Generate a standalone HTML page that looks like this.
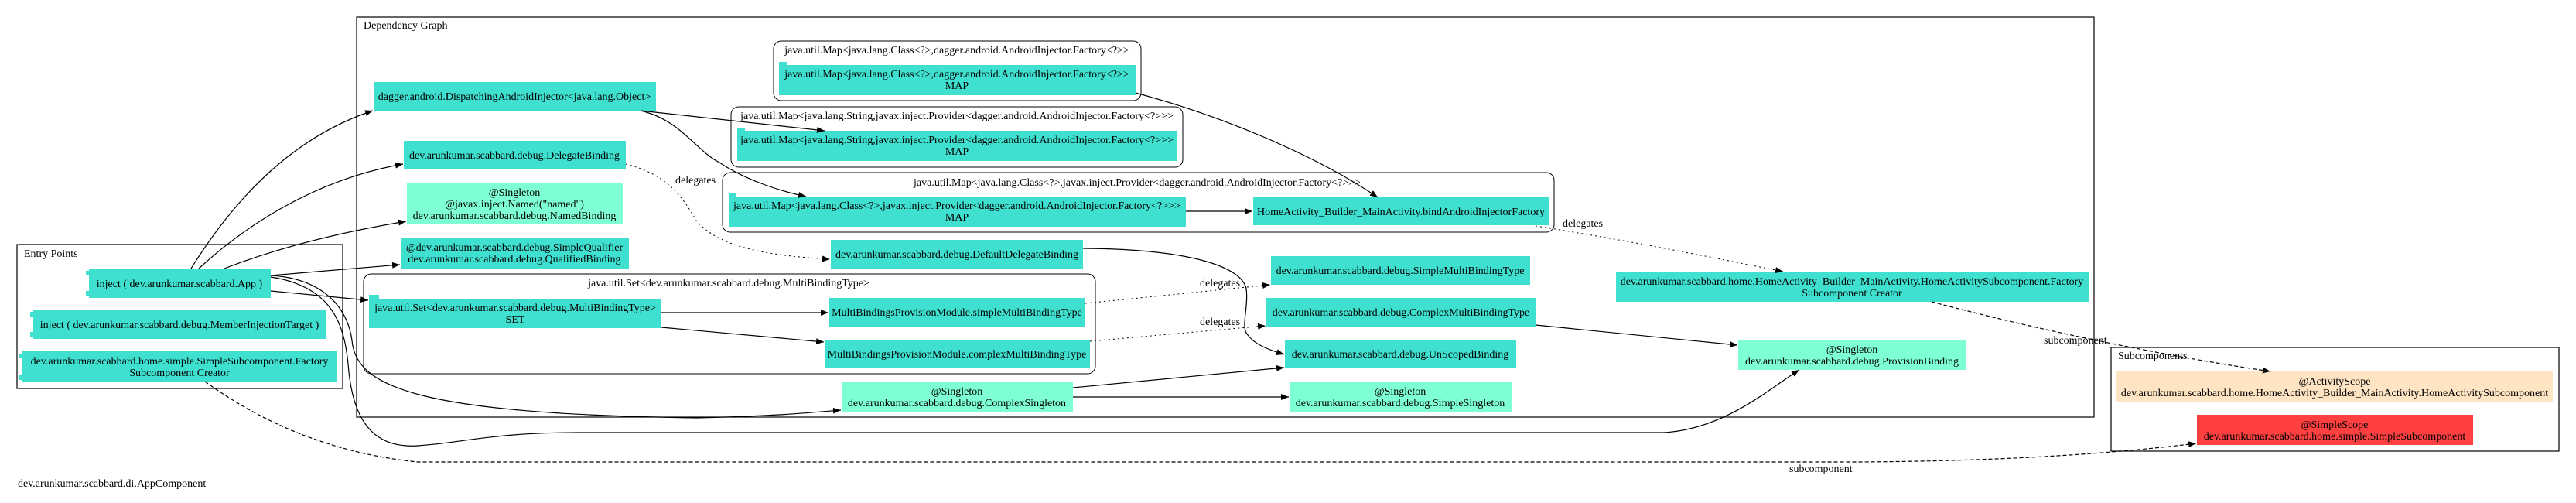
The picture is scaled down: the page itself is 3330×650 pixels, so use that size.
<!DOCTYPE html>
<html><head><meta charset="utf-8"><style>
html,body{margin:0;padding:0;background:#fff;}
svg{display:block;}
text{font-family:"Liberation Serif",serif;font-size:14px;fill:#000;}
</style></head><body>
<svg width="3330" height="650" viewBox="0 0 3330 650" xmlns="http://www.w3.org/2000/svg">
<defs>
<marker id="a" markerWidth="10" markerHeight="8" refX="10" refY="4" orient="auto" markerUnits="userSpaceOnUse">
<path d="M0,0 L10,4 L0,8 z" fill="#000"/></marker>
</defs>
<rect width="3330" height="650" fill="#fff"/>

<!-- clusters -->
<rect x="461" y="22" width="2246" height="517" fill="none" stroke="#000" stroke-width="1.2"/>
<text x="470" y="37">Dependency Graph</text>
<rect x="22" y="316" width="421" height="186" fill="none" stroke="#000" stroke-width="1.2"/>
<text x="31" y="332">Entry Points</text>
<rect x="2729" y="449" width="579" height="134" fill="none" stroke="#000" stroke-width="1.2"/>
<text x="2738" y="464">Subcomponents</text>
<text x="23" y="629">dev.arunkumar.scabbard.di.AppComponent</text>

<rect x="1000" y="53" width="475" height="77" rx="10" fill="none" stroke="#000"/>
<text x="1237" y="69" text-anchor="middle">java.util.Map&lt;java.lang.Class&lt;?&gt;,dagger.android.AndroidInjector.Factory&lt;?&gt;&gt;</text>
<rect x="945" y="138" width="584" height="78" rx="10" fill="none" stroke="#000"/>
<text x="1237" y="154" text-anchor="middle">java.util.Map&lt;java.lang.String,javax.inject.Provider&lt;dagger.android.AndroidInjector.Factory&lt;?&gt;&gt;&gt;</text>
<rect x="934" y="223" width="1075" height="77" rx="10" fill="none" stroke="#000"/>
<text x="1470" y="240" text-anchor="middle">java.util.Map&lt;java.lang.Class&lt;?&gt;,javax.inject.Provider&lt;dagger.android.AndroidInjector.Factory&lt;?&gt;&gt;&gt;</text>
<rect x="470" y="354" width="946" height="129" rx="10" fill="none" stroke="#000"/>
<text x="942" y="370" text-anchor="middle">java.util.Set&lt;dev.arunkumar.scabbard.debug.MultiBindingType&gt;</text>

<!-- nodes -->
<g fill="#40e0d0">
<rect x="115" y="347" width="235" height="38"/><rect x="111" y="350" width="6" height="6"/><rect x="111" y="376" width="6" height="6"/>
<rect x="43" y="400" width="379" height="38"/><rect x="39" y="403" width="6" height="6"/><rect x="39" y="429" width="6" height="6"/>
<rect x="29" y="454" width="406" height="40"/><rect x="25" y="457" width="6" height="6"/><rect x="25" y="485" width="6" height="6"/>
<rect x="483" y="106" width="365" height="37"/>
<rect x="522" y="182" width="287" height="36"/>
<rect x="518" y="308" width="295" height="39"/>
<rect x="477" y="386" width="378" height="38"/><rect x="477" y="381" width="13" height="6"/>
<rect x="1007" y="84" width="461" height="39"/><rect x="1007" y="80" width="10" height="5"/>
<rect x="953" y="169" width="569" height="39"/><rect x="953" y="165" width="10" height="5"/>
<rect x="942" y="254" width="591" height="39"/><rect x="942" y="250" width="10" height="5"/>
<rect x="1620" y="255" width="382" height="36"/>
<rect x="1074" y="310" width="326" height="37"/>
<rect x="1072" y="385" width="331" height="37"/>
<rect x="1066" y="439" width="343" height="37"/>
<rect x="1643" y="331" width="335" height="37"/>
<rect x="1637" y="385" width="348" height="37"/>
<rect x="1661" y="439" width="299" height="37"/>
<rect x="2089" y="351" width="611" height="39"/>
</g>
<g fill="#7fffd4">
<rect x="526" y="236" width="279" height="54"/>
<rect x="1088" y="493" width="299" height="39"/>
<rect x="1667" y="493" width="287" height="39"/>
<rect x="2247" y="439" width="294" height="39"/>
</g>
<rect x="2736" y="480" width="564" height="39" fill="#ffe4c4"/>
<rect x="2840" y="536" width="357" height="39" fill="#ff4040"/>

<!-- node text -->
<g text-anchor="middle">
<text x="232" y="371">inject ( dev.arunkumar.scabbard.App )</text>
<text x="232" y="424">inject ( dev.arunkumar.scabbard.debug.MemberInjectionTarget )</text>
<text x="232" y="471">dev.arunkumar.scabbard.home.simple.SimpleSubcomponent.Factory</text>
<text x="232" y="486">Subcomponent Creator</text>
<text x="665" y="129">dagger.android.DispatchingAndroidInjector&lt;java.lang.Object&gt;</text>
<text x="665" y="205">dev.arunkumar.scabbard.debug.DelegateBinding</text>
<text x="665" y="253">@Singleton</text>
<text x="665" y="268">@javax.inject.Named("named")</text>
<text x="665" y="283">dev.arunkumar.scabbard.debug.NamedBinding</text>
<text x="665" y="324">@dev.arunkumar.scabbard.debug.SimpleQualifier</text>
<text x="665" y="339">dev.arunkumar.scabbard.debug.QualifiedBinding</text>
<text x="666" y="402">java.util.Set&lt;dev.arunkumar.scabbard.debug.MultiBindingType&gt;</text>
<text x="666" y="417">SET</text>
<text x="1237" y="100">java.util.Map&lt;java.lang.Class&lt;?&gt;,dagger.android.AndroidInjector.Factory&lt;?&gt;&gt;</text>
<text x="1237" y="115">MAP</text>
<text x="1237" y="185">java.util.Map&lt;java.lang.String,javax.inject.Provider&lt;dagger.android.AndroidInjector.Factory&lt;?&gt;&gt;&gt;</text>
<text x="1237" y="200">MAP</text>
<text x="1237" y="270">java.util.Map&lt;java.lang.Class&lt;?&gt;,javax.inject.Provider&lt;dagger.android.AndroidInjector.Factory&lt;?&gt;&gt;&gt;</text>
<text x="1237" y="285">MAP</text>
<text x="1811" y="278">HomeActivity_Builder_MainActivity.bindAndroidInjectorFactory</text>
<text x="1237" y="333">dev.arunkumar.scabbard.debug.DefaultDelegateBinding</text>
<text x="1237" y="408">MultiBindingsProvisionModule.simpleMultiBindingType</text>
<text x="1237" y="462">MultiBindingsProvisionModule.complexMultiBindingType</text>
<text x="1237" y="510">@Singleton</text>
<text x="1237" y="525">dev.arunkumar.scabbard.debug.ComplexSingleton</text>
<text x="1810" y="354">dev.arunkumar.scabbard.debug.SimpleMultiBindingType</text>
<text x="1811" y="408">dev.arunkumar.scabbard.debug.ComplexMultiBindingType</text>
<text x="1810" y="462">dev.arunkumar.scabbard.debug.UnScopedBinding</text>
<text x="1810" y="510">@Singleton</text>
<text x="1810" y="525">dev.arunkumar.scabbard.debug.SimpleSingleton</text>
<text x="2394" y="368">dev.arunkumar.scabbard.home.HomeActivity_Builder_MainActivity.HomeActivitySubcomponent.Factory</text>
<text x="2394" y="383">Subcomponent Creator</text>
<text x="2394" y="456">@Singleton</text>
<text x="2394" y="471">dev.arunkumar.scabbard.debug.ProvisionBinding</text>
<text x="3018" y="497">@ActivityScope</text>
<text x="3018" y="512">dev.arunkumar.scabbard.home.HomeActivity_Builder_MainActivity.HomeActivitySubcomponent</text>
<text x="3018" y="553">@SimpleScope</text>
<text x="3018" y="568">dev.arunkumar.scabbard.home.simple.SimpleSubcomponent</text>
</g>

<!-- edges -->
<g fill="none" stroke="#000" stroke-width="1.2">
<path d="M247,347 C320,230 400,170 482,143" marker-end="url(#a)"/>
<path d="M257,347 C330,280 420,230 521,212" marker-end="url(#a)"/>
<path d="M290,347 C360,320 440,300 525,286" marker-end="url(#a)"/>
<path d="M350,356 L517,342" marker-end="url(#a)"/>
<path d="M350,376 L476,388" marker-end="url(#a)"/>
<path d="M350,356 C420,360 450,400 455,440 C460,500 540,535 900,540 C1000,538 1050,533 1087,530" marker-end="url(#a)"/>
<path d="M350,358 C430,370 445,420 450,470 C455,540 480,580 540,576 C600,572 640,558 760,559 L2150,559 C2230,555 2290,500 2326,478" marker-end="url(#a)"/>
<path d="M828,143 L1066,169" marker-end="url(#a)"/>
<path d="M828,143 C880,155 900,195 930,210 C960,230 1000,245 1042,254" marker-end="url(#a)"/>
<path d="M1468,120 C1580,150 1700,200 1781,255" marker-end="url(#a)"/>
<path d="M1533,273 L1619,273" marker-end="url(#a)"/>
<path d="M1400,321 C1540,322 1605,345 1611,373 C1614,395 1605,420 1611,430 C1620,445 1640,452 1660,458" marker-end="url(#a)"/>
<path d="M855,404 L1071,404" marker-end="url(#a)"/>
<path d="M855,423 L1065,442" marker-end="url(#a)"/>
<path d="M1387,501 L1660,475" marker-end="url(#a)"/>
<path d="M1387,513 L1666,513" marker-end="url(#a)"/>
<path d="M1985,420 L2246,446" marker-end="url(#a)"/>
</g>
<g fill="none" stroke="#000" stroke-width="1" stroke-dasharray="2,4">
<path d="M809,212 C860,225 880,250 900,285 C930,320 990,330 1073,335" marker-end="url(#a)"/>
<path d="M1403,392 L1642,368" marker-end="url(#a)"/>
<path d="M1409,441 L1636,421" marker-end="url(#a)"/>
<path d="M1985,292 C2100,310 2200,330 2305,351" marker-end="url(#a)"/>
</g>
<g fill="none" stroke="#000" stroke-width="1.2" stroke-dasharray="5,3">
<path d="M2497,390 C2650,430 2800,460 2935,480" marker-end="url(#a)"/>
<path d="M265,493 C330,540 420,585 540,597 L2400,597 C2600,596 2740,585 2839,573" marker-end="url(#a)"/>
</g>
<text x="873" y="237">delegates</text>
<text x="1551" y="370">delegates</text>
<text x="1551" y="420">delegates</text>
<text x="2020" y="293">delegates</text>
<text x="2642" y="444">subcomponent</text>
<text x="2313" y="610">subcomponent</text>
</svg>
</body></html>
